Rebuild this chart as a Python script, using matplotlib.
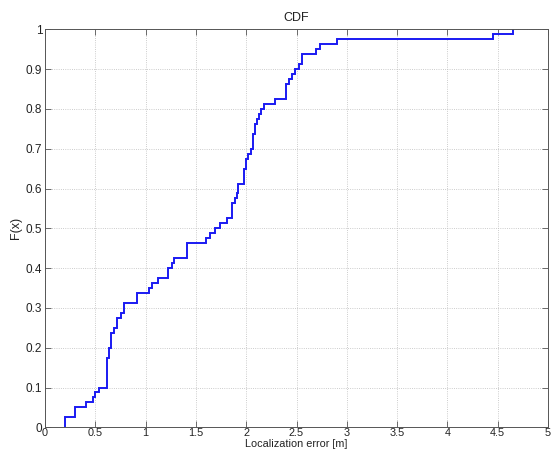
import numpy as np
import matplotlib
matplotlib.use("Agg")
import matplotlib.pyplot as plt

plt.rcParams['font.family'] = ['Liberation Sans', 'DejaVu Sans']

# Localization error samples (m), read from the empirical CDF (80 samples)
errors = ([0.20] * 2 + [0.30] * 2 + [0.41, 0.48, 0.50, 0.54] +
          [0.615] * 3 + [0.62] * 3 + [0.64] * 2 + [0.66] * 3 + [0.69] +
          [0.72] * 2 + [0.76] + [0.79] * 2 + [0.91] * 2 +
          [1.03, 1.06, 1.12] + [1.22] * 2 + [1.26, 1.28] + [1.41] * 3 +
          [1.60, 1.64, 1.69, 1.74, 1.81] +
          [1.86] * 3 + [1.89, 1.91] + [1.92] * 2 + [1.98] * 3 + [2.00] * 2 +
          [2.02, 2.05] + [2.07] * 3 + [2.09] * 2 + [2.11, 2.13, 2.15, 2.18, 2.29] +
          [2.40] * 3 + [2.43, 2.46, 2.49, 2.52] + [2.55] * 2 +
          [2.69, 2.73, 2.90, 4.45, 4.65])

xticks = [0, 0.5, 1, 1.5, 2, 2.5, 3, 3.5, 4, 4.5, 5]
xticklabels = ['0', '0.5', '1', '1.5', '2', '2.5', '3', '3.5', '4', '4.5', '5']
yticks = [0, 0.1, 0.2, 0.3, 0.4, 0.5, 0.6, 0.7, 0.8, 0.9, 1]
yticklabels = ['0', '0.1', '0.2', '0.3', '0.4', '0.5', '0.6', '0.7', '0.8', '0.9', '1']

vals, counts = np.unique(np.array(errors), return_counts=True)
F = np.cumsum(counts) / len(errors)
xs = np.repeat(vals, 2)
ys = np.empty_like(xs)
ys[0::2] = np.concatenate([[0.0], F[:-1]])
ys[1::2] = F

fig = plt.figure(figsize=(5.53, 4.5), dpi=100)
ax = fig.add_axes([45 / 553, 1 - 427.3 / 450, 503 / 553, 398 / 450])

ax.plot(xs, ys, color=(0.1, 0.1, 0.95), lw=1.4, solid_joinstyle='miter')

ax.set_xlim(0, 5)
ax.set_ylim(0, 1)
ax.set_xticks(xticks)
ax.set_xticklabels(xticklabels)
ax.set_yticks(yticks)
ax.set_yticklabels(yticklabels)
ax.tick_params(direction='in', top=True, right=True, labelsize=8.5,
               length=4, width=0.6, color='#555555', labelcolor='#222222')
ax.tick_params(axis='x', pad=0.5, labelsize=7.8)
ax.tick_params(axis='y', pad=2)
for s in ax.spines.values():
    s.set_color('#555555')
    s.set_linewidth(0.7)
ax.grid(True, ls=':', color='#bbbbbb', lw=0.6)

ax.set_title('CDF', fontsize=9, color='#222222', pad=6)
ax.set_xlabel('Localization error [m]', fontsize=7.8, color='#222222')
ax.xaxis.set_label_coords(0.5, -0.0425)
ax.xaxis.label.set_va('center')
ax.set_ylabel('F(x)', fontsize=9, color='#222222')
ax.yaxis.set_label_coords(-0.058, 0.5)
ax.yaxis.label.set_va('center')

fig.savefig('out.png', dpi=100)
